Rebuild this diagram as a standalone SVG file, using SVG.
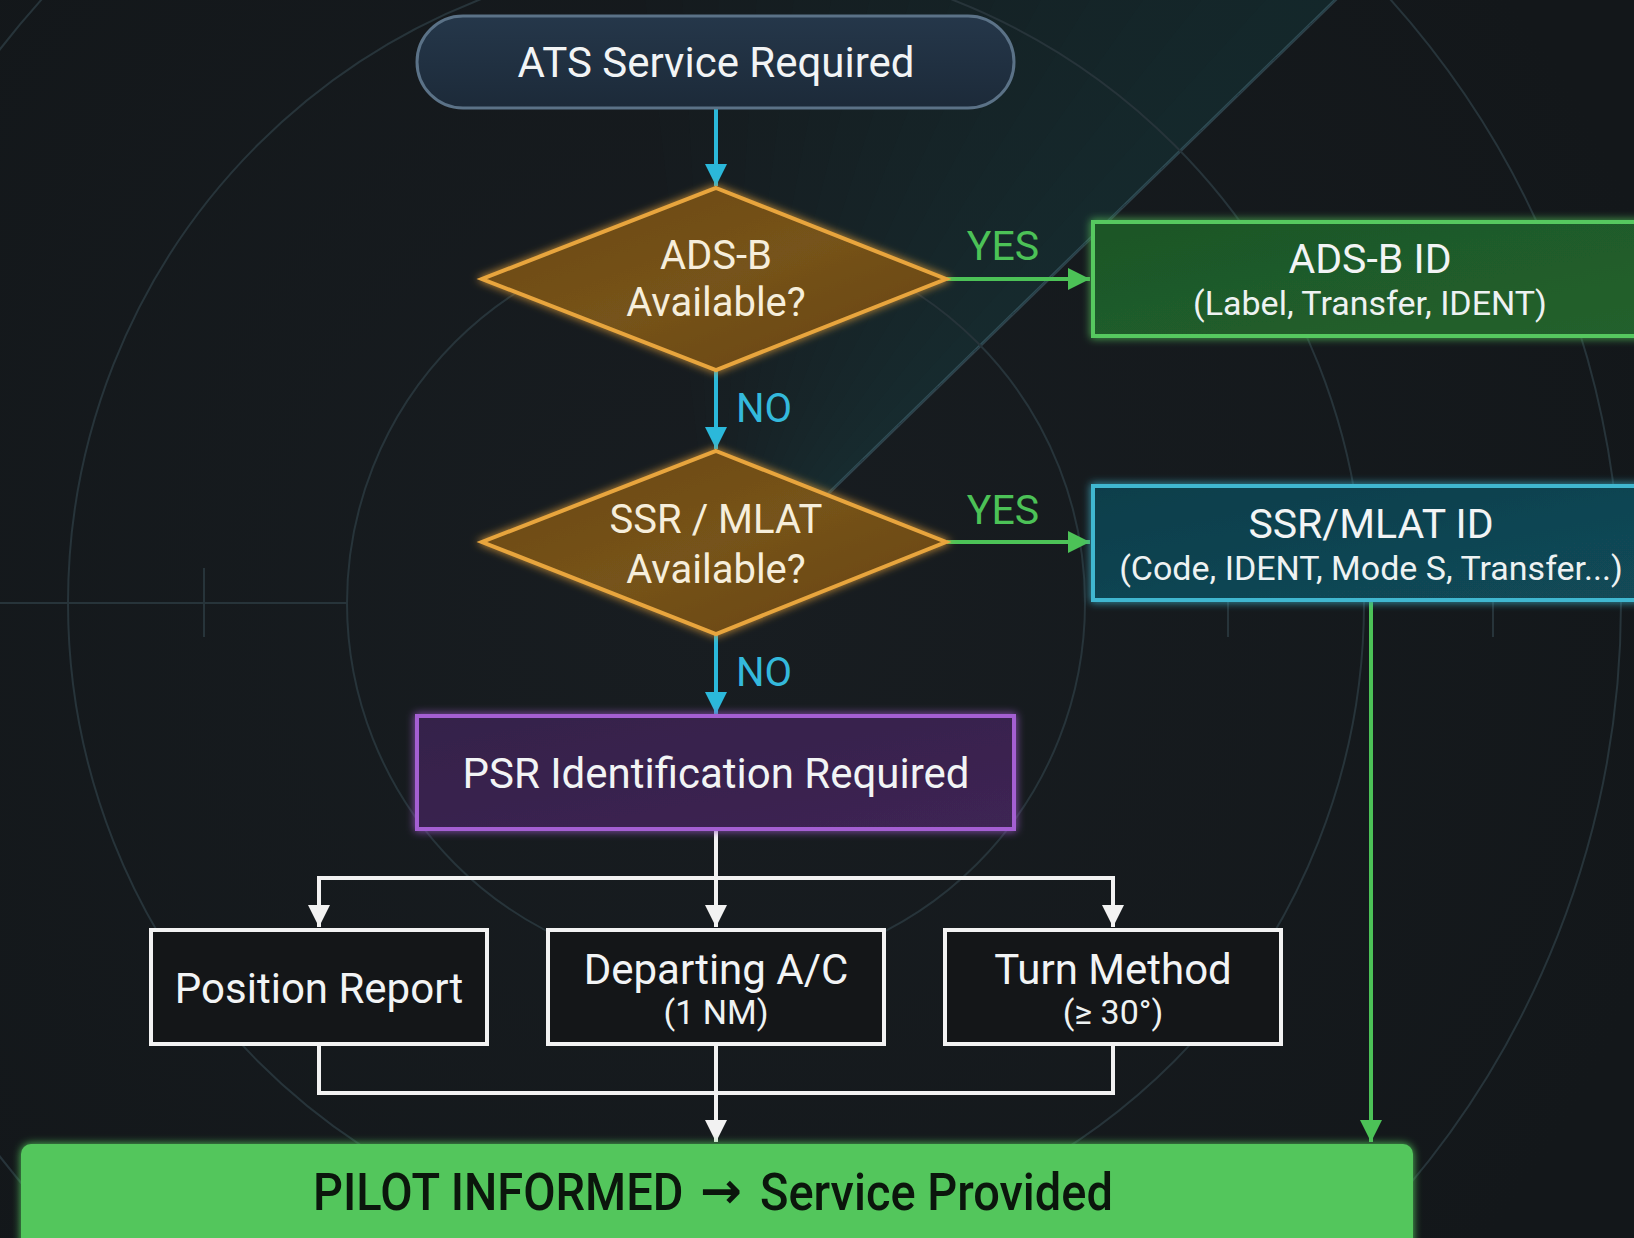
<svg xmlns="http://www.w3.org/2000/svg" width="1634" height="1238" viewBox="0 0 1634 1238">
  <defs>
    <style>
      .txt { font-family: Roboto, "Open Sans", "Liberation Sans", sans-serif; text-anchor: middle; }
      .title { font-size: 42px; fill: #f2f4f5; }
      .sub { font-size: 34px; fill: #eef2f2; }
      .dtext { font-size: 40px; fill: #f6eedb; }
      .yes { font-size: 41px; fill: #4cc257; }
      .no { font-size: 40px; fill: #34b9dc; text-anchor: start; }
      .final { font-size: 47px; font-weight: 500; fill: #0b160c; }
      .grid { fill: none; stroke: #27343a; stroke-width: 2; }
      .sweep path { fill: #6c9cb2; fill-opacity: 0.012; }
      .conn-cyan { fill: none; stroke: #2bb8da; stroke-width: 4; marker-end: url(#ah-cyan); }
      .conn-green { fill: none; stroke: #4cc257; stroke-width: 4; marker-end: url(#ah-green); }
      .conn-white { fill: none; stroke: #f2f2f2; stroke-width: 4; }
      .arrow-white { marker-end: url(#ah-white); }
      .diamond { fill: url(#gDiamond); stroke: #e8a53e; stroke-width: 4; stroke-linejoin: miter; }
      .wbox { fill: #141618; stroke: #f2f2f2; stroke-width: 4; }
    </style>

    <linearGradient id="gDiamond" x1="0" y1="0" x2="1" y2="1">
      <stop offset="0" stop-color="#6a4713"/>
      <stop offset="0.5" stop-color="#76531a"/>
      <stop offset="1" stop-color="#664412"/>
    </linearGradient>
    <linearGradient id="gPill" x1="0" y1="0" x2="0" y2="1">
      <stop offset="0" stop-color="#25374a"/>
      <stop offset="1" stop-color="#1c2a39"/>
    </linearGradient>
    <linearGradient id="gAdsb" x1="0" y1="0" x2="1" y2="1">
      <stop offset="0" stop-color="#1d5627"/>
      <stop offset="1" stop-color="#22612d"/>
    </linearGradient>
    <linearGradient id="gSsr" x1="0" y1="0" x2="1" y2="1">
      <stop offset="0" stop-color="#0f3e4b"/>
      <stop offset="1" stop-color="#124a58"/>
    </linearGradient>
    <linearGradient id="gPsr" x1="0" y1="0" x2="1" y2="1">
      <stop offset="0" stop-color="#35204a"/>
      <stop offset="1" stop-color="#3d2553"/>
    </linearGradient>
    <radialGradient id="gBg" cx="716" cy="603" r="1000" gradientUnits="userSpaceOnUse">
      <stop offset="0" stop-color="#181d21"/>
      <stop offset="1" stop-color="#13171a"/>
    </radialGradient>

    <filter id="glow" x="-20%" y="-30%" width="140%" height="160%">
      <feGaussianBlur in="SourceGraphic" stdDeviation="4" result="b"/>
      <feMerge>
        <feMergeNode in="b"/>
        <feMergeNode in="SourceGraphic"/>
      </feMerge>
    </filter>

    <marker id="ah-cyan" viewBox="0 0 20 20" refX="20" refY="10" markerWidth="22" markerHeight="22" markerUnits="userSpaceOnUse" orient="auto">
      <path d="M0,0 L20,10 L0,20 z" fill="#2bb8da"/>
    </marker>
    <marker id="ah-green" viewBox="0 0 20 20" refX="20" refY="10" markerWidth="22" markerHeight="22" markerUnits="userSpaceOnUse" orient="auto">
      <path d="M0,0 L20,10 L0,20 z" fill="#4cc257"/>
    </marker>
    <marker id="ah-white" viewBox="0 0 20 20" refX="20" refY="10" markerWidth="22" markerHeight="22" markerUnits="userSpaceOnUse" orient="auto">
      <path d="M0,0 L20,10 L0,20 z" fill="#f2f2f2"/>
    </marker>
  </defs>

  <!-- background and radar scope -->
  <g id="background">
    <rect x="0" y="0" width="1634" height="1238" fill="url(#gBg)"/>
    <!-- sweep trail: stacked wedges from the leading edge, widening 3.5 deg each -->
    <g class="sweep">
      <path d="M716,603 L1576,-234 L1524,-284 Z"/>
      <path d="M716,603 L1576,-234 L1468,-332 Z"/>
      <path d="M716,603 L1576,-234 L1409,-376 Z"/>
      <path d="M716,603 L1576,-234 L1348,-417 Z"/>
      <path d="M716,603 L1576,-234 L1285,-454 Z"/>
      <path d="M716,603 L1576,-234 L1219,-486 Z"/>
      <path d="M716,603 L1576,-234 L1152,-515 Z"/>
      <path d="M716,603 L1576,-234 L1083,-540 Z"/>
      <path d="M716,603 L1576,-234 L1012,-560 Z"/>
      <path d="M716,603 L1576,-234 L941,-576 Z"/>
      <path d="M716,603 L1576,-234 L869,-587 Z"/>
      <path d="M716,603 L1576,-234 L796,-594 Z"/>
      <path d="M716,603 L1576,-234 L722,-597 Z"/>
      <path d="M716,603 L1576,-234 L649,-595 Z"/>
      <path d="M716,603 L1576,-234 L576,-589 Z"/>
    </g>
    <line x1="716" y1="603" x2="1400" y2="-63" stroke="#5f8c9e" stroke-opacity="0.35" stroke-width="3"/>
    <circle class="grid" cx="716" cy="603" r="369"/>
    <circle class="grid" cx="716" cy="603" r="648"/>
    <circle class="grid" cx="716" cy="603" r="905"/>
    <line class="grid" x1="0" y1="603" x2="347" y2="603"/>
    <line class="grid" x1="204" y1="568" x2="204" y2="637"/>
    <line class="grid" x1="1228" y1="568" x2="1228" y2="637"/>
    <line class="grid" x1="1493" y1="568" x2="1493" y2="637"/>
  </g>

  <!-- connectors -->
  <g id="connectors">
    <path class="conn-cyan" d="M716,108 L716,186"/>
    <path class="conn-cyan" d="M716,371 L716,449"/>
    <path class="conn-cyan" d="M716,635 L716,714"/>
    <path class="conn-green" d="M947,279 L1090,279"/>
    <path class="conn-green" d="M947,542 L1090,542"/>
    <path class="conn-green" d="M1371,601 L1371,1142"/>
    <path class="conn-white arrow-white" d="M716,831 L716,927"/>
    <path class="conn-white arrow-white" d="M716,878 L319,878 L319,927"/>
    <path class="conn-white arrow-white" d="M716,878 L1113,878 L1113,927"/>
    <path class="conn-white" d="M319,1045 L319,1093 L1113,1093 L1113,1045"/>
    <path class="conn-white arrow-white" d="M716,1045 L716,1142"/>
    <text class="txt yes" x="1003" y="260">YES</text>
    <text class="txt yes" x="1003" y="524">YES</text>
    <text class="txt no" x="736" y="422">NO</text>
    <text class="txt no" x="736" y="686">NO</text>
  </g>

  <g id="ats-service-required">
    <rect x="417" y="16" width="597" height="92" rx="46" fill="url(#gPill)" stroke="#5b7287" stroke-width="3"/>
    <text class="txt title" x="716" y="77">ATS Service Required</text>
  </g>

  <g id="adsb-available">
    <polygon class="diamond" filter="url(#glow)" points="716,188 946,279 716,370 482,279"/>
    <text class="txt dtext" x="716" y="269">ADS-B</text>
    <text class="txt dtext" x="716" y="316">Available?</text>
  </g>

  <g id="adsb-id">
    <rect x="1093" y="222" width="570" height="114" fill="url(#gAdsb)" stroke="#56c85f" stroke-width="4" filter="url(#glow)"/>
    <text class="txt title" x="1370" y="273" style="font-size:41px">ADS-B ID</text>
    <text class="txt sub" x="1370" y="315">(Label, Transfer, IDENT)</text>
  </g>

  <g id="ssr-mlat-available">
    <polygon class="diamond" filter="url(#glow)" points="716,451 946,542 716,634 482,542"/>
    <text class="txt dtext" x="716" y="533">SSR / MLAT</text>
    <text class="txt dtext" x="716" y="583">Available?</text>
  </g>

  <g id="ssr-mlat-id">
    <rect x="1093" y="486" width="570" height="114" fill="url(#gSsr)" stroke="#3fb7d0" stroke-width="4" filter="url(#glow)"/>
    <text class="txt title" x="1371" y="538" style="font-size:41px">SSR/MLAT ID</text>
    <text class="txt sub" x="1371" y="580">(Code, IDENT, Mode S, Transfer...)</text>
  </g>

  <g id="psr-identification">
    <rect x="417" y="716" width="597" height="113" fill="url(#gPsr)" stroke="#a45fd2" stroke-width="4" filter="url(#glow)"/>
    <text class="txt title" x="716" y="788">PSR Identification Required</text>
  </g>

  <g id="position-report">
    <rect class="wbox" x="151" y="930" width="336" height="114"/>
    <text class="txt title" x="319" y="1003">Position Report</text>
  </g>

  <g id="departing-ac">
    <rect class="wbox" x="548" y="930" width="336" height="114"/>
    <text class="txt title" x="716" y="984">Departing A/C</text>
    <text class="txt sub" x="716" y="1024">(1 NM)</text>
  </g>

  <g id="turn-method">
    <rect class="wbox" x="945" y="930" width="336" height="114"/>
    <text class="txt title" x="1113" y="984">Turn Method</text>
    <text class="txt sub" x="1113" y="1024">(≥ 30°)</text>
  </g>

  <g id="pilot-informed">
    <rect x="21" y="1144" width="1392" height="120" rx="10" fill="#52c65c" filter="url(#glow)"/>
    <!-- slightly tall lettering: scaled vertically about the baseline -->
    <g transform="translate(0,1210) scale(1,1.12) translate(0,-1210)">
      <text class="txt final" x="313" y="1210" style="text-anchor:start">PILOT INFORMED</text>
      <text class="txt final" x="760" y="1210" style="text-anchor:start">Service Provided</text>
    </g>
    <text class="final" x="721" y="1208" style="font-family:'DejaVu Sans', sans-serif; font-size:50px; font-weight:bold; text-anchor:middle">→</text>
  </g>
</svg>
